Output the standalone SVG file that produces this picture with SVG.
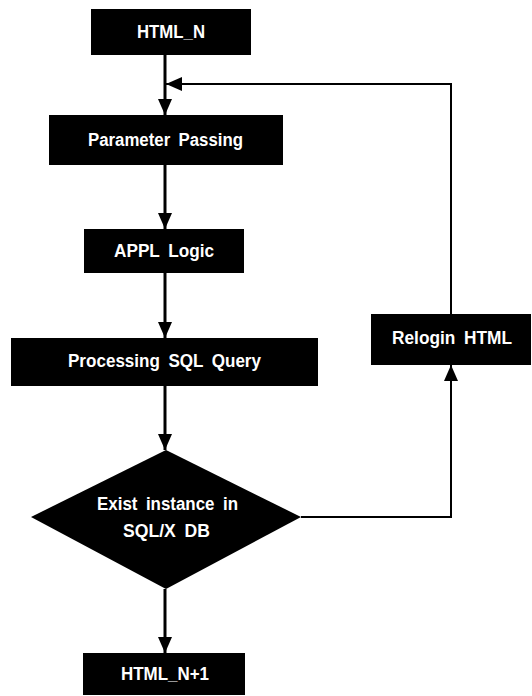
<svg xmlns="http://www.w3.org/2000/svg" width="532" height="696" viewBox="0 0 532 696">
  <style>
    .box { fill: #000; }
    .label { fill: #fff; font-family: "Liberation Sans", Arial, sans-serif; font-size: 18px; font-weight: bold; text-anchor: middle; word-spacing: 4px; }
    .flow { fill: none; stroke: #000; stroke-width: 3; }
    .loop { fill: none; stroke: #000; stroke-width: 2; }
  </style>
  <defs>
    <marker id="arrow" markerUnits="userSpaceOnUse" markerWidth="16" markerHeight="14" refX="16" refY="7" orient="auto">
      <path d="M0,0 L16,7 L0,14 Z" fill="#000"/>
    </marker>
  </defs>
  <rect width="532" height="696" fill="#fff"/>

  <g id="connectors">
    <line class="flow" x1="165" y1="55" x2="165" y2="115" marker-end="url(#arrow)"/>
    <line class="flow" x1="165" y1="165" x2="165" y2="229" marker-end="url(#arrow)"/>
    <line class="flow" x1="165" y1="273" x2="165" y2="338" marker-end="url(#arrow)"/>
    <line class="flow" x1="165" y1="386" x2="165" y2="450" marker-end="url(#arrow)"/>
    <line class="flow" x1="165" y1="589" x2="165" y2="653" marker-end="url(#arrow)"/>
    <polyline class="loop" points="301,517 451,517 451,365" marker-end="url(#arrow)"/>
    <polyline class="loop" points="451,314 451,84 166,84" marker-end="url(#arrow)"/>
  </g>

  <g id="html-n">
    <rect class="box" x="91" y="9" width="160" height="46"/>
    <text class="label" x="171" y="38" textLength="68" lengthAdjust="spacingAndGlyphs">HTML_N</text>
  </g>
  <g id="parameter-passing">
    <rect class="box" x="49" y="115" width="234" height="50"/>
    <text class="label" x="165.5" y="146" textLength="155" lengthAdjust="spacingAndGlyphs">Parameter Passing</text>
  </g>
  <g id="appl-logic">
    <rect class="box" x="84" y="229" width="160" height="44"/>
    <text class="label" x="164" y="257" textLength="100" lengthAdjust="spacingAndGlyphs">APPL Logic</text>
  </g>
  <g id="processing-sql-query">
    <rect class="box" x="11" y="338" width="307" height="48"/>
    <text class="label" x="164.5" y="367" textLength="193" lengthAdjust="spacingAndGlyphs">Processing SQL Query</text>
  </g>
  <g id="exist-instance">
    <polygon class="box" points="166,450 301,517 166,589 31,517"/>
    <text class="label" x="167.5" y="510" textLength="141" lengthAdjust="spacingAndGlyphs">Exist instance in</text>
    <text class="label" x="166.5" y="537" textLength="87" lengthAdjust="spacingAndGlyphs">SQL/X DB</text>
  </g>
  <g id="relogin-html">
    <rect class="box" x="371" y="314" width="160" height="51"/>
    <text class="label" x="452" y="344" textLength="120" lengthAdjust="spacingAndGlyphs">Relogin HTML</text>
  </g>
  <g id="html-n-plus-1">
    <rect class="box" x="83" y="653" width="162" height="42"/>
    <text class="label" x="165" y="680" textLength="88" lengthAdjust="spacingAndGlyphs">HTML_N+1</text>
  </g>
</svg>
